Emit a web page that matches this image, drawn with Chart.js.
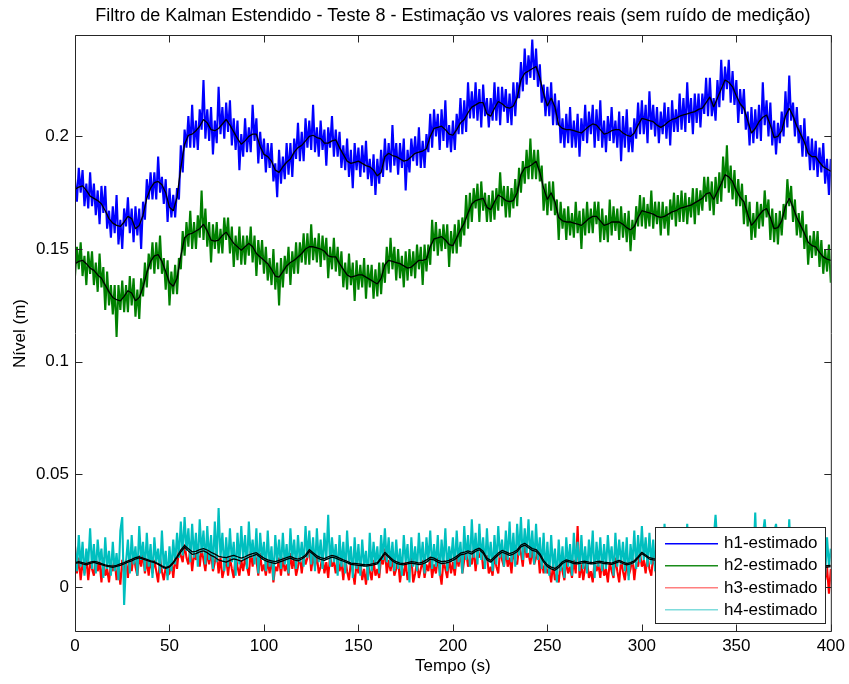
<!DOCTYPE html>
<html>
<head>
<meta charset="utf-8">
<title>Filtro de Kalman Estendido - Teste 8</title>
<script src="https://cdn.jsdelivr.net/npm/chart.js@4.4.1/dist/chart.umd.min.js"></script>
<style>
  html, body { margin: 0; padding: 0; background: #ffffff; }
  canvas { display: block; }
</style>
</head>
<body>
<canvas id="chart" width="849" height="684"></canvas>
<script>
// Levels are stored in millimetres; the chart plots them in metres.
const MM_TO_M = 0.001;
const TRUE_STEP_S = 2;   // sampling of the true levels (s)
const EST_STEP_S = 1;    // sampling of the EKF estimates (s)

const xTicks = [0, 50, 100, 150, 200, 250, 300, 350, 400];
const yTicks = [0, 0.05, 0.1, 0.15, 0.2];

const seriesLabels = ['h1-estimado', 'h2-estimado', 'h3-estimado', 'h4-estimado'];

// True tank levels (mm), every 2 s from 0 to 400 s
const h1Real = [
  176.5,177.5,178,176,173.5,172.5,171.5,170,167,163.5,
  161.5,160.5,160,162,164.5,163.5,159,160.5,165,172.5,
  177,179.5,180,178.5,175,168.5,167,173,186,196.5,
  200.5,201,202.5,204.5,207.5,206,203,202.5,203.5,205.5,
  207.5,205,202,199,196.5,198,200,201,201,195.5,
  192,191,189,185,184,186.5,188.5,190,193,195,
  196,198,200,200.5,199.5,199,197,197,198,198.5,
  195,192,189,188,188.5,189,188,187,186.5,185,
  182.5,184,191,192.5,191.5,191,190,189,189.5,191,
  192.5,193,193.5,194.5,200,203.5,204,204.5,203,201,
  200.5,203,206,207.5,210.5,213,214,215,215,210,
  209,212.5,215.5,214.5,213,212.5,213.5,217,225,228,
  229,230,231,226,219,213.5,217,213,205,203.5,
  203,203,202.5,202,201.5,203,204.5,205.5,205,203,
  201,201.5,202.5,203,203,201.5,200.5,200,201.5,205,
  208,207.5,207,206.5,205,204,205,206.5,207.5,208,
  209,209.5,210,210.5,211,212,212.5,215,217.5,213,
  217,221,225,224,222,218,214.5,212.5,207,201.5,
  203.5,206.5,208.5,209.5,205,199.5,200,202.5,209,212.5,
  209,204.5,201,197.5,192.5,191,191,188.5,186.5,185.5,
  184.5
];
const h2Real = [
  143.5,144.5,145,143.5,141.5,140.5,138.5,137,134,131,
  128.5,127.5,127,129,131.5,130.5,127,128.5,133,139.5,
  144.5,147,147.5,144.5,140,135,133.5,137,147,155,
  156.5,157,158,159,161,158,154,153.5,154,156,
  157.5,155,152.5,151,149.5,151,152.5,151,148,146.5,
  145,143.5,141,138,137.5,140,142.5,144,145,146.5,
  148,150,151,151,150.5,150,149,147,146.5,146.5,
  143.5,141,138.5,137.5,138,138.5,138.5,137.5,136.5,135.5,
  134.5,137,143,145,144.5,144,143.5,142.5,141.5,142,
  143.5,145,145,145.5,151,154.5,155,155.5,154,152,
  151.5,155,158.5,161.5,166,170,171.5,172,172.5,168.5,
  167.5,171,174,173,171.5,171,171.5,175,183,186,
  186.5,187.5,189,184,177,172,175,171,164,162.5,
  162,162,161.5,161,160.5,162,163.5,164.5,164.5,162.5,
  160.5,161,162,162,162,161,159.5,158.5,160,164,
  167,166.5,166,165.5,164.5,164,164.5,165.5,166.5,167,
  168,168.5,169,169.5,170.5,171.5,172.5,174.5,175,172,
  175.5,179,183,182,180,176,173,171,165.5,160.5,
  162.5,165,167,168,164,159,159.5,162.5,169,172.5,
  168.5,164,160.5,157,153,151.5,151,148.5,146.5,145.5,
  145
];
const h3Real = [
  10.5,10.8,10.2,9.8,10.5,10.9,
  10.4,9.9,9.4,9.0,8.7,9.1,9.6,
  10.2,11.0,11.6,12.4,12.9,12.3,11.8,
  11.2,10.8,10.0,9.0,8.2,8.8,
  10.5,13.0,15.5,17.6,16.0,
  14.5,14.8,15.6,16.0,15.2,14.0,13.2,12.0,11.5,
  11.0,11.8,12.5,12.0,11.4,12.3,13.2,13.8,14.5,13.2,
  12.0,11.2,10.8,10.4,11.0,11.6,12.2,12.8,12.0,11.6,
  12.4,13.5,15.8,14.5,13.0,12.2,11.8,12.6,13.2,12.8,
  12.0,11.4,10.8,10.0,9.8,9.6,9.4,9.2,9.5,9.8,
  10.2,12.4,14.8,13.2,11.5,10.5,10.0,9.8,10.2,10.6,
  10.3,9.9,10.2,11.0,12.4,12.0,11.0,10.4,10.6,11.0,
  11.8,12.8,14.2,14.6,15.2,14.6,15.8,16.5,15.0,12.0,
  11.0,12.6,14.2,15.4,14.8,14.0,14.6,15.6,17.8,18.6,
  17.4,16.2,15.8,14.0,11.0,9.0,8.0,7.4,8.6,10.4,
  11.4,11.0,10.4,10.2,10.6,10.8,10.4,10.2,10.6,10.8,
  10.4,10.2,10.0,10.6,11.2,10.4,9.8,10.2,11.0,12.8,
  14.8,13.6,12.4,12.0,11.8,12.2,12.6,12.4,12.0,11.8,
  12.0,12.4,12.8,12.6,12.2,12.0,12.4,12.8,13.2,13.0,
  12.6,12.2,11.8,11.6,11.4,11.2,11.0,10.6,10.4,10.2,
  10.0,10.4,10.8,11.0,10.6,10.2,10.0,9.8,10.2,10.6,
  10.8,10.4,10.0,9.6,9.4,9.2,9.0,8.8,8.6,8.8,
  9.0
];
const h4Real = [
  10.8,11.2,10.8,10.4,11.0,11.4,
  11.0,10.4,9.8,9.4,9.2,9.6,10.2,
  10.8,11.6,12.2,13.0,13.4,12.8,12.2,
  11.6,11.2,10.4,9.4,8.6,9.2,
  11.0,13.6,16.4,18.4,17.0,
  15.6,15.8,16.6,17.0,16.4,15.4,14.6,13.6,13.2,
  13.0,13.6,14.0,13.4,12.8,13.4,14.2,14.8,15.2,14.0,
  12.8,12.0,11.6,11.2,11.8,12.4,13.0,13.6,12.8,12.4,
  13.0,14.2,16.6,15.2,13.8,13.0,12.6,13.4,14.0,13.6,
  12.8,12.0,11.4,10.6,10.4,10.2,10.0,9.8,10.0,10.4,
  10.8,13.0,15.4,13.8,12.2,11.2,10.6,10.4,10.8,11.2,
  11.0,10.6,11.0,12.0,13.2,12.8,11.8,11.2,11.4,11.8,
  12.6,13.6,15.0,15.4,16.0,15.4,16.6,17.2,15.8,12.8,
  11.8,13.4,15.0,16.2,15.6,14.8,15.4,16.4,18.6,19.4,
  18.2,17.0,16.6,14.8,11.8,9.8,8.8,8.2,9.4,11.2,
  12.0,11.6,11.0,10.8,11.2,11.4,11.0,10.8,11.2,11.4,
  11.0,10.8,10.6,11.2,11.8,11.0,10.4,10.8,11.6,13.4,
  15.4,14.2,13.0,12.6,12.4,12.8,13.2,13.0,12.6,12.4,
  12.6,13.0,13.4,13.2,12.8,12.6,13.0,13.4,13.8,13.6,
  13.2,12.8,12.4,12.2,12.0,11.8,11.6,11.2,11.0,10.8,
  10.6,11.0,11.4,11.6,11.2,10.8,10.6,10.4,10.8,11.2,
  11.4,11.0,10.6,10.2,10.0,9.8,9.6,9.4,9.2,9.4,
  9.6
];

// EKF estimates (mm), every 1 s from 0 to 400 s
const h1Est = [
  181,171,186,175,185,169,179,168,184,169,
  179,165,176,161,178,166,178,159,167,155,
  169,157,174,152,163,150,168,160,173,157,
  168,153,169,156,168,150,171,163,181,172,
  184,172,184,172,191,175,182,170,181,162,
  177,164,174,164,177,172,196,184,203,195,
  209,195,214,195,207,194,212,203,225,199,
  212,198,213,192,207,197,222,201,213,199,
  215,202,216,196,208,194,207,185,201,191,
  208,193,204,193,214,198,208,188,202,190,
  199,184,197,186,197,180,188,173,194,179,
  191,181,197,183,197,182,199,190,206,189,
  202,189,208,195,207,194,214,193,204,191,
  207,194,203,187,204,195,209,191,203,191,
  202,186,196,185,199,182,194,177,197,185,
  195,182,196,184,198,181,190,178,192,174,
  190,179,194,182,199,185,197,184,205,187,
  197,183,197,186,199,176,194,184,199,189,
  200,187,204,186,198,186,201,193,210,195,
  212,200,210,194,212,198,216,195,205,193,
  207,194,210,201,217,201,216,202,224,208,
  220,208,224,207,221,204,223,209,217,204,
  217,207,224,207,222,205,222,211,221,206,
  219,205,224,209,224,217,233,220,239,223,
  236,226,243,225,239,222,232,215,223,209,
  222,209,224,205,219,205,216,197,208,195,
  210,197,213,195,207,195,210,191,208,198,
  214,197,211,201,214,195,212,198,216,195,
  207,193,209,198,213,197,207,195,211,189,
  209,195,212,193,204,193,208,199,215,201,
  216,201,214,197,220,203,214,200,213,197,
  211,201,215,199,213,196,216,202,212,202,
  219,203,217,202,224,206,217,201,219,206,
  219,204,219,210,226,209,226,209,217,207,
  225,213,234,216,231,221,234,215,229,214,
  225,206,221,210,221,203,211,196,213,197,
  212,199,214,198,224,205,216,200,215,196,
  207,192,206,197,211,200,220,204,227,207,
  215,200,213,197,205,191,208,191,200,185,
  199,185,198,182,195,184,197,179,190,174,
  190
];
const h2Est = [
  138,151,141,153,138,147,134,149,139,149,
  134,144,131,148,133,142,123,140,125,134,
  121,134,111,134,123,136,122,134,122,138,
  125,137,120,132,119,137,129,144,133,148,
  141,153,139,153,141,156,139,146,132,145,
  125,140,130,143,130,146,141,158,147,162,
  151,167,150,162,150,165,155,176,154,168,
  151,162,144,161,150,162,148,159,148,164,
  154,164,148,160,142,156,145,160,143,156,
  143,156,147,160,144,156,138,154,143,154,
  139,151,136,146,134,150,132,144,125,146,
  133,147,139,151,134,149,139,153,139,153,
  144,157,143,157,143,161,145,155,144,157,
  142,156,145,155,137,151,141,155,140,151,
  138,149,133,144,132,148,134,144,127,145,
  132,143,133,146,128,143,133,143,128,141,
  129,144,130,144,135,151,139,155,141,151,
  136,150,137,147,133,149,136,150,138,149,
  137,152,141,151,134,152,140,152,143,163,
  149,162,147,159,149,161,150,161,142,158,
  148,161,148,163,151,164,156,174,159,175,
  162,177,168,179,162,180,167,175,162,174,
  162,176,163,177,167,184,169,178,164,178,
  164,177,168,181,169,186,175,189,179,194,
  181,199,181,194,181,194,180,187,167,179,
  165,180,167,180,165,172,154,171,159,168,
  154,169,156,166,155,171,157,167,150,168,
  156,171,157,168,157,171,161,171,153,168,
  154,165,153,172,156,169,158,168,154,169,
  155,166,153,167,149,163,154,169,160,174,
  160,173,159,170,160,176,159,171,161,171,
  156,171,159,169,156,172,163,175,160,174,
  162,176,162,175,161,173,164,177,161,177,
  165,176,167,182,171,182,167,180,165,182,
  170,184,171,191,177,196,175,187,172,185,
  169,181,169,179,161,174,160,171,154,166,
  155,171,159,170,160,176,164,172,154,168,
  153,166,152,167,156,170,163,181,169,178,
  162,172,156,166,155,167,150,161,143,156,
  146,158,147,158,142,154,139,150,140,152,
  135
];
const h3Est = [
  18,6,13,3,11,6,13,3,11,8,
  5,13,7,11,2,13,5,8,2,11,
  7,12,3,9,1,12,6,12,4,14,
  7,14,9,5,14,9,15,6,12,5,
  13,6,12,7,2,13,7,3,9,5,
  6,12,4,13,8,17,14,11,19,13,
  10,17,7,15,12,17,9,17,12,7,
  16,10,16,7,11,16,6,13,4,8,
  13,5,13,8,4,14,9,5,12,7,
  13,9,5,16,9,15,12,5,15,7,
  10,5,12,6,13,2,9,7,13,5,
  13,7,10,5,15,8,13,5,9,14,
  6,14,10,13,18,7,14,9,14,6,
  9,14,6,11,4,14,9,11,6,14,
  7,11,3,13,7,3,11,7,1,11,
  6,12,3,8,1,10,7,3,12,5,
  8,4,13,10,17,6,12,7,13,5,
  8,12,2,9,5,11,3,8,13,2,
  6,11,4,8,12,4,10,7,13,4,
  10,6,13,7,1,12,8,4,13,6,
  11,5,14,9,16,6,12,16,9,13,
  10,17,7,15,13,17,8,12,14,6,
  9,5,14,9,6,17,12,9,16,9,
  13,6,17,11,10,18,15,9,21,13,
  15,10,17,10,13,17,6,12,6,11,
  6,8,2,10,3,6,2,11,7,3,
  12,6,9,4,12,6,27,4,10,3,
  9,12,4,7,2,12,7,10,4,12,
  5,8,2,11,7,4,13,7,2,12,
  7,3,11,5,8,13,3,11,9,15,
  9,12,6,14,8,5,14,9,3,13,
  7,13,5,11,4,12,8,3,13,6,
  9,14,6,11,3,13,8,12,5,14,
  9,5,13,7,11,4,14,8,3,12,
  6,13,9,4,12,7,11,3,13,8,
  5,12,7,10,2,12,6,9,3,11,
  7,12,4,10,6,13,5,9,2,11,
  6,12,8,3,11,7,12,4,9,13,
  5,11,7,2,10,6,12,4,8,3,
  10,5,11,2,8,6,10,3,9,-3,
  8
];
const h4Est = [
  18,7,23,9,20,5,17,10,26,8,
  19,6,21,11,17,4,22,8,16,5,
  20,7,15,3,25,31,-8,11,21,6,
  23,10,18,5,27,12,20,7,24,9,
  19,4,22,11,17,6,25,8,16,3,
  18,7,21,10,24,13,29,14,31,16,
  26,11,28,13,24,9,30,15,25,10,
  27,12,23,8,29,11,35,13,24,7,
  22,9,26,11,20,5,24,10,27,12,
  23,8,29,13,21,10,26,6,24,12,
  20,7,25,9,18,3,23,11,21,8,
  24,10,19,6,26,12,21,8,23,11,
  20,9,27,13,25,10,22,7,26,11,
  21,8,24,12,32,9,22,11,19,5,
  23,9,20,6,25,10,18,4,22,8,
  19,5,21,9,16,3,24,7,20,10,
  18,6,23,12,26,11,22,9,20,7,
  21,8,17,5,23,11,19,2,22,9,
  18,7,24,10,20,6,22,11,25,8,
  19,9,23,5,21,10,26,7,18,11,
  22,8,25,11,20,6,27,12,23,9,
  30,13,24,10,28,12,22,8,26,11,
  20,7,23,10,27,13,21,9,25,12,
  29,11,24,9,28,14,31,12,26,15,
  30,13,25,10,28,12,22,8,24,6,
  20,5,23,8,17,2,21,7,18,4,
  22,9,19,5,24,10,20,7,23,8,
  18,6,21,10,25,4,20,9,22,7,
  19,8,23,11,18,5,24,9,21,10,
  20,7,22,3,19,10,25,8,23,11,
  27,12,22,9,24,10,21,7,23,11,
  19,8,28,11,20,6,22,10,18,26,
  21,9,24,7,28,11,19,8,23,12,
  20,6,22,10,26,9,19,7,21,32,
  18,8,22,11,20,6,24,9,19,10,
  21,7,23,5,19,9,22,8,20,11,
  33,9,21,7,23,30,19,10,22,8,
  24,28,18,9,21,6,20,10,30,8,
  19,9,22,7,18,10,21,5,20,11,
  17,8,21,6,26,10,20,5,22,9,
  17
];

const estColors = ['#0000ff', '#008000', '#ff0000', '#00bfbf'];
const legendColors = ['#0000ff', '#1a8c1a', '#ff7f7f', '#7fdcdc'];
const realColor = '#000000';
const axisColor = '#262626';
const FONT = { family: '"Liberation Sans", Arial, Helvetica, sans-serif', size: 17 };
const TITLE_SIZE = 18;

const toPoints = (vals, step) => vals.map((v, i) => ({ x: i * step, y: v * MM_TO_M }));

const estimates = [h1Est, h2Est, h3Est, h4Est];
const reals = [h1Real, h2Real, h3Real, h4Real];

const datasets = [];
estimates.forEach((vals, k) => {
  datasets.push({
    label: seriesLabels[k],
    data: toPoints(vals, EST_STEP_S),
    borderColor: estColors[k],
    borderWidth: 2.1,
    order: 10 - k
  });
});
reals.forEach((vals, k) => {
  datasets.push({
    label: 'h' + (k + 1) + '-real',
    data: toPoints(vals, TRUE_STEP_S),
    borderColor: realColor,
    borderWidth: 1.3,
    order: 0
  });
});

// MATLAB-style box with inward ticks, title and legend
const matlabFrame = {
  id: 'matlabFrame',
  afterDatasetsDraw(chart) {
    const { ctx, chartArea: a, scales: { x, y } } = chart;
    const TICK = 7;
    ctx.save();
    ctx.strokeStyle = axisColor;
    ctx.lineWidth = 1;
    const L = a.left + 0.5, R = a.right + 0.5, T = a.top + 0.5, B = a.bottom - 0.5;
    ctx.beginPath();
    ctx.rect(L, T, R - L, B - T);
    xTicks.forEach(v => {
      const px = Math.round(x.getPixelForValue(v)) + 0.5;
      ctx.moveTo(px, B); ctx.lineTo(px, B - TICK);
      ctx.moveTo(px, T); ctx.lineTo(px, T + TICK);
    });
    yTicks.forEach(v => {
      const py = Math.round(y.getPixelForValue(v)) + 0.5;
      ctx.moveTo(L, py); ctx.lineTo(L + TICK, py);
      ctx.moveTo(R, py); ctx.lineTo(R - TICK, py);
    });
    ctx.stroke();

    // title
    ctx.fillStyle = '#000';
    ctx.font = TITLE_SIZE + 'px ' + FONT.family;
    ctx.textAlign = 'center';
    ctx.textBaseline = 'middle';
    ctx.fillText('Filtro de Kalman Estendido - Teste 8 - Estimação vs valores reais (sem ruído de medição)',
      (a.left + a.right) / 2, 16);

    // legend
    const bx = 655.5, by = 527.5, bw = 170, bh = 96;
    ctx.fillStyle = '#ffffff';
    ctx.fillRect(bx, by, bw, bh);
    ctx.strokeStyle = axisColor;
    ctx.strokeRect(bx, by, bw, bh);
    ctx.font = FONT.size + 'px ' + FONT.family;
    ctx.textAlign = 'left';
    for (let k = 0; k < seriesLabels.length; k++) {
      const ry = 542.5 + k * 22.3;
      ctx.fillStyle = legendColors[k];
      ctx.fillRect(665, Math.round(ry), 53, 1.5);
      ctx.fillStyle = '#000';
      ctx.fillText(seriesLabels[k], 724, ry + 1);
    }
    ctx.restore();
  }
};

new Chart(document.getElementById('chart'), {
  type: 'line',
  data: { datasets },
  plugins: [matlabFrame],
  options: {
    responsive: false,
    animation: false,
    devicePixelRatio: 1,
    parsing: false,
    normalized: true,
    layout: { padding: { top: 35, right: 17, left: 0, bottom: 0 } },
    elements: {
      point: { radius: 0 },
      line: { tension: 0, borderJoinStyle: 'bevel', borderCapStyle: 'butt' }
    },
    plugins: {
      legend: { display: false },
      tooltip: { enabled: false },
      title: { display: false }
    },
    scales: {
      x: {
        type: 'linear',
        min: 0,
        max: 400,
        afterBuildTicks: s => { s.ticks = xTicks.map(v => ({ value: v })); },
        afterFit: s => { s.height = 52; },
        grid: { display: false, drawTicks: false },
        border: { display: false },
        ticks: { font: FONT, color: '#000', padding: 4, maxRotation: 0, autoSkip: false,
                 callback: v => String(v) },
        title: { display: true, text: 'Tempo (s)', font: FONT, color: '#000',
                 padding: { top: 0, bottom: 7 } }
      },
      y: {
        type: 'linear',
        min: -0.02,
        max: 0.245,
        afterBuildTicks: s => { s.ticks = yTicks.map(v => ({ value: v })); },
        afterFit: s => { s.width = 75; },
        grid: { display: false, drawTicks: false },
        border: { display: false },
        ticks: { font: FONT, color: '#000', padding: 6, autoSkip: false,
                 callback: v => String(v) },
        title: { display: true, text: 'Nível (m)', font: FONT, color: '#000',
                 padding: { top: 10, bottom: 0 } }
      }
    }
  }
});
</script>
</body>
</html>
